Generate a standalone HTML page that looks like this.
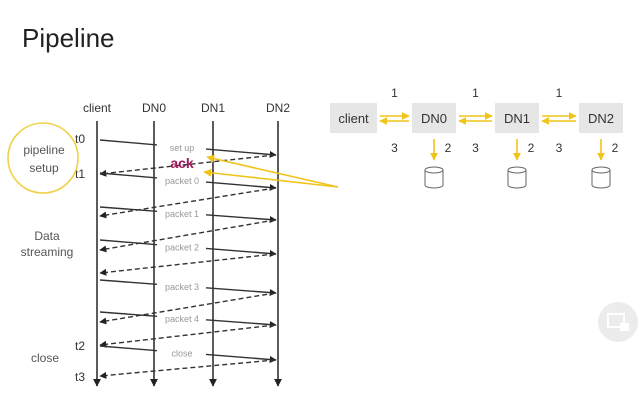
<!DOCTYPE html>
<html><head><meta charset="utf-8"><style>
html,body{margin:0;padding:0;background:#fff;}
svg{display:block;font-family:"Liberation Sans",sans-serif;}
</style></head><body>
<svg id="c" width="638" height="406" viewBox="0 0 638 406" xmlns="http://www.w3.org/2000/svg">
<defs>
<marker id="ah" viewBox="0 0 10 10" refX="9" refY="5" markerWidth="5" markerHeight="5" orient="auto"><path d="M0,0L10,5L0,10z" fill="#222"/></marker>
<marker id="ay" viewBox="0 0 10 10" refX="9" refY="5" markerWidth="5" markerHeight="5" orient="auto"><path d="M0,0L10,5L0,10z" fill="#f0c419"/></marker>
</defs>
<text x="22" y="47" font-size="26" fill="#222">Pipeline</text>
<g id="seq"></g>
<g id="right"></g>
<g>
<circle cx="618" cy="322" r="20" fill="#ececec"/>
<rect x="608" y="314" width="16" height="13" fill="none" stroke="#fff" stroke-width="2"/>
<rect x="620" y="323" width="9" height="8" fill="#fff"/>
</g>
</svg>
<script>
const nodes = ["client","DN0","DN1","DN2"];
const nodeX = [97,154,213,278];
const msgLabels = ["set up","packet 0","packet 1","packet 2","packet 3","packet 4","close"];
const sendStart = [140,173,207,240,280,312,346];
const sendEnd = [155,188,220,254,293,325,360];
const ackEnd = [174,216,250,273,322,345,376];
const timeLabels = ["t0","t1","t2","t3"];
const timeY = [143,178,350,381];

const NS="http://www.w3.org/2000/svg";
function mk(tag,attrs,parent,txt){const e=document.createElementNS(NS,tag);for(const k in attrs)e.setAttribute(k,attrs[k]);if(txt!==undefined)e.textContent=txt;parent.appendChild(e);return e;}
const seq=document.getElementById('seq');
const L=nodeX[0], R=nodeX[3];
function yAt(y0,y1,x,xa,xb){return y0+(y1-y0)*(x-xa)/(xb-xa);}
nodes.forEach((n,i)=>{
  const t=mk('text',{x:nodeX[i],y:112,'font-size':12,'text-anchor':'middle',fill:'#333'},seq,n);
  
  
  const l=mk('line',{x1:nodeX[i],y1:121,x2:nodeX[i],y2:386,stroke:'#333','stroke-width':1.6,'marker-end':'url(#ah)'},seq);
  
  
});
msgLabels.forEach((m,i)=>{
  const y0=sendStart[i], y1=sendEnd[i];
  const lx=182, g1=157, g2=206;
  const g=mk('g',{},seq);
  
  
  mk('line',{x1:L+3,y1:y0,x2:g1,y2:yAt(y0,y1,g1,L,R),stroke:'#333','stroke-width':1.4},g);
  mk('line',{x1:g2,y1:yAt(y0,y1,g2,L,R),x2:R-2,y2:y1,stroke:'#333','stroke-width':1.4,'marker-end':'url(#ah)'},g);
  mk('text',{x:lx,y:yAt(y0,y1,lx,L,R)+4,'font-size':9,'text-anchor':'middle',fill:'#999'},g,m);
  const a=mk('line',{x1:R-3,y1:y1,x2:L+3,y2:ackEnd[i],stroke:'#333','stroke-width':1.4,'stroke-dasharray':'5,3','marker-end':'url(#ah)'},seq);
  
  
});
const ack=mk('text',{x:182,y:168,'font-size':14,'font-weight':'bold',fill:'#a0185a','text-anchor':'middle'},seq,'ack');


timeLabels.forEach((t,i)=>{
  const e=mk('text',{x:85,y:timeY[i],'font-size':12,'text-anchor':'end',fill:'#333'},seq,t);
  
  
});
const circ=mk('circle',{cx:43,cy:158,r:35,fill:'none',stroke:'#f0d24a','stroke-width':1.6},seq);


[["pipeline",154],["setup",172]].forEach(([t,y])=>{const e=mk('text',{x:44,y:y,'font-size':12,'text-anchor':'middle',fill:'#555'},seq,t);

});
[["Data",240,47],["streaming",256,47],["close",362,45]].forEach(([t,y,x])=>{const e=mk('text',{x:x,y:y,'font-size':12,'text-anchor':'middle',fill:'#555'},seq,t);

});
[[207,157],[204,172]].forEach((p,i)=>{const e=mk('line',{x1:338,y1:187,x2:p[0],y2:p[1],stroke:'#f0c419','stroke-width':1.6,'marker-end':'url(#ay)'},seq);

});

const right=document.getElementById('right');
const boxX=[330,412,495,579], boxW=[47,44,44,44];
nodes.forEach((n,i)=>{
  const g=mk('g',{},right);
  
  
  mk('rect',{x:boxX[i],y:103,width:boxW[i],height:30,fill:'#e6e6e6'},g);
  mk('text',{x:boxX[i]+boxW[i]/2,y:123,'font-size':13,'text-anchor':'middle',fill:'#333'},g,n);
  if(i>0){
    const x0=boxX[i-1]+boxW[i-1]+3, x1=boxX[i]-3;
    const a=mk('g',{},right);
    
    
    mk('line',{x1:x0,y1:116,x2:x1,y2:116,stroke:'#f0c419','stroke-width':1.6,'marker-end':'url(#ay)'},a);
    mk('line',{x1:x1,y1:121,x2:x0,y2:121,stroke:'#f0c419','stroke-width':1.6,'marker-end':'url(#ay)'},a);
    mk('text',{x:(x0+x1)/2,y:97,'font-size':12,'text-anchor':'middle',fill:'#333'},a,'1');
    mk('text',{x:(x0+x1)/2,y:152,'font-size':12,'text-anchor':'middle',fill:'#333'},a,'3');
    const cx=boxX[i]+boxW[i]/2;
    const d=mk('g',{},right);
    
    
    mk('line',{x1:cx,y1:139,x2:cx,y2:160,stroke:'#f0c419','stroke-width':1.6,'marker-end':'url(#ay)'},d);
    mk('text',{x:cx+14,y:152,'font-size':12,'text-anchor':'middle',fill:'#333'},d,'2');
    mk('path',{d:`M${cx-9},170 v15 a9,3 0 0 0 18,0 v-15`,fill:'none',stroke:'#666','stroke-width':1},d);
    mk('ellipse',{cx:cx,cy:170,rx:9,ry:3,fill:'none',stroke:'#666','stroke-width':1},d);
  }
});
</script>
</body></html>
